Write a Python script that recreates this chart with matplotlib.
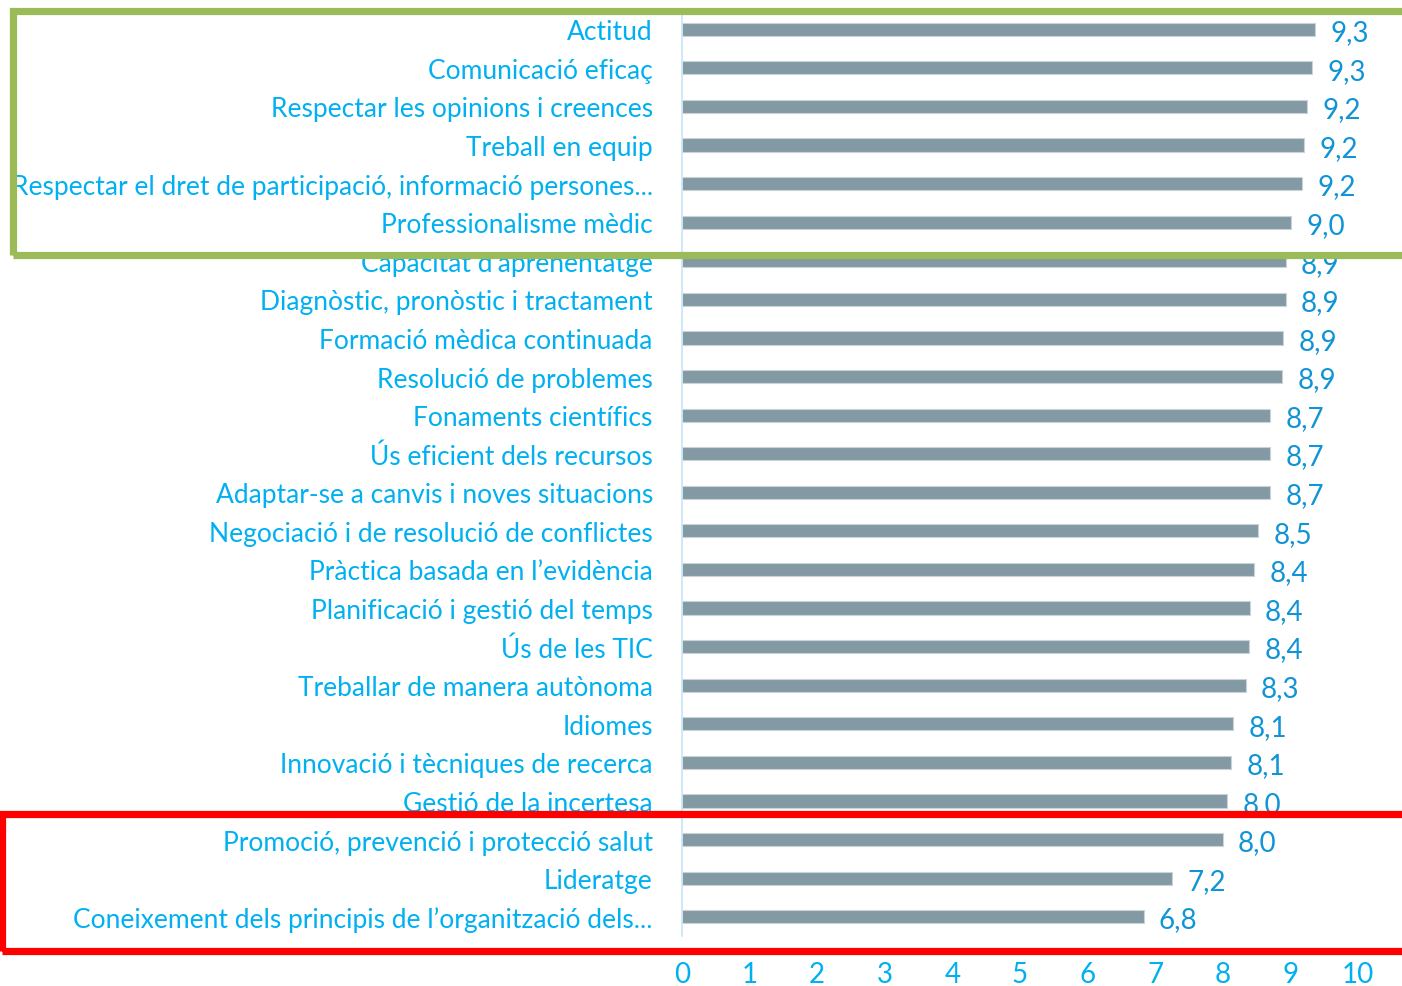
import matplotlib
matplotlib.use("Agg")
import matplotlib.pyplot as plt
from matplotlib.patches import Rectangle

plt.rcParams["font.family"] = ["Lato", "DejaVu Sans"]

categories = [
    "Actitud",
    "Comunicació eficaç",
    "Respectar les opinions i creences",
    "Treball en equip",
    "Respectar el dret de participació, informació persones...",
    "Professionalisme mèdic",
    "Capacitat d'aprenentatge",
    "Diagnòstic, pronòstic i tractament",
    "Formació mèdica continuada",
    "Resolució de problemes",
    "Fonaments científics",
    "Ús eficient dels recursos",
    "Adaptar-se a canvis i noves situacions",
    "Negociació i de resolució de conflictes",
    "Pràctica basada en l\u2019evidència",
    "Planificació i gestió del temps",
    "Ús de les TIC",
    "Treballar de manera autònoma",
    "Idiomes",
    "Innovació i tècniques de recerca",
    "Gestió de la incertesa",
    "Promoció, prevenció i protecció salut",
    "Lideratge",
    "Coneixement dels principis de l\u2019organització dels...",
]
values = [9.36, 9.32, 9.25, 9.20, 9.17, 9.01, 8.93, 8.93, 8.89, 8.88,
          8.70, 8.70, 8.70, 8.52, 8.46, 8.40, 8.39, 8.34, 8.15, 8.12,
          8.06, 8.00, 7.25, 6.83]
value_labels = ["9,3", "9,3", "9,2", "9,2", "9,2", "9,0", "8,9", "8,9", "8,9", "8,9",
                "8,7", "8,7", "8,7", "8,5", "8,4", "8,4", "8,4", "8,3", "8,1", "8,1",
                "8,0", "8,0", "7,2", "6,8"]
xticks = list(range(0, 11))

label_color = "#00B0F0"
value_color = "#1094D6"
bar_color = "#8399A4"

fig = plt.figure(figsize=(14.02, 9.87), dpi=100)
ax = fig.add_axes([682 / 1402, 1 - 937 / 987, 676 / 1402, 926 / 987])

y = list(range(len(categories)))
ax.barh(y, values, height=0.34, color=bar_color, edgecolor="#C9D3D8", linewidth=0.8)
for yi, v, lab in zip(y, values, value_labels):
    ax.annotate(lab, (v, yi), xytext=(11, -2), textcoords="offset points",
                ha="left", va="center", fontsize=20, color=value_color)

ax.set_xlim(0, 10)
ax.set_ylim(len(categories) - 0.5, -0.5)
ax.set_yticks(y)
ax.set_yticklabels(categories, fontsize=19, color=label_color)
ax.set_xticks(xticks)
ax.set_xticklabels([str(t) for t in xticks], fontsize=20, color=label_color)
ax.tick_params(axis="y", length=0, pad=21)
ax.tick_params(axis="x", length=0, pad=18)
for s in ["top", "right", "bottom"]:
    ax.spines[s].set_visible(False)
ax.spines["left"].set_color("#C8E4F6")
ax.spines["left"].set_linewidth(1.2)

# highlight boxes
W, H = 1402, 987
fig.patches.append(Rectangle((12.5 / W, 1 - 256 / H), 1400 / W, 244 / H,
                             transform=fig.transFigure, fill=False,
                             edgecolor="#9BBB59", linewidth=5.2, zorder=5))
fig.patches.append(Rectangle((1.5 / W, 1 - 952 / H), 1410 / W, 137 / H,
                             transform=fig.transFigure, fill=False,
                             edgecolor="#FF0000", linewidth=5.2, zorder=5))

fig.savefig("out.png", dpi=100)
